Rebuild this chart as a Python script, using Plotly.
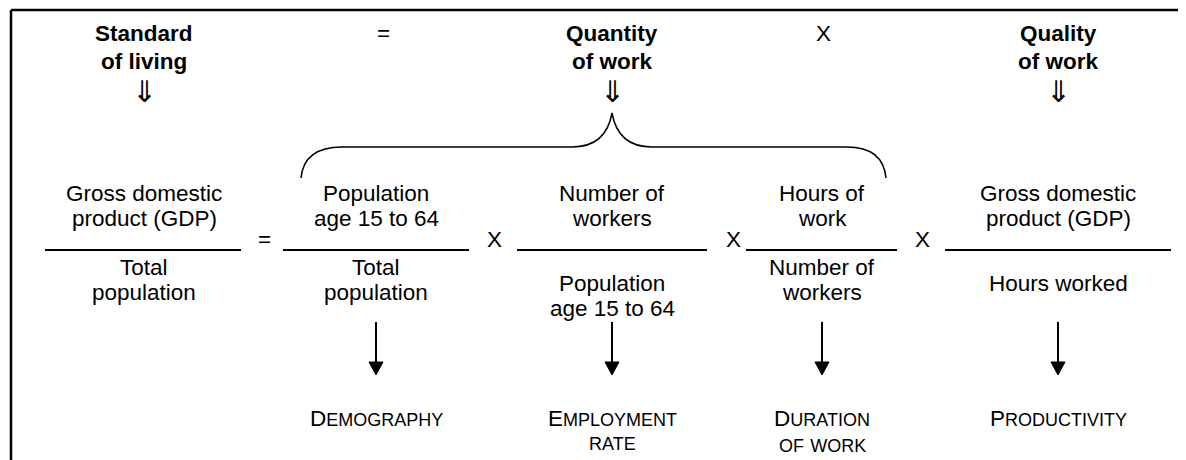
import plotly.graph_objects as go

# ---- content ----
headers = [["Standard", "of living"], ["Quantity", "of work"], ["Quality", "of work"]]
header_ops = ["=", "X"]
numerators = [["Gross domestic", "product (GDP)"], ["Population", "age 15 to 64"],
              ["Number of", "workers"], ["Hours of", "work"], ["Gross domestic", "product (GDP)"]]
denominators = [["Total", "population"], ["Total", "population"],
                ["Population", "age 15 to 64"], ["Number of", "workers"], ["Hours worked"]]
operators = ["=", "X", "X", "X"]
components = [["Demography"], ["Employment", "rate"], ["Duration", "of work"], ["Productivity"]]

# ---- layout (pixel positions in the 1186x460 frame) ----
W, H = 1186, 460
PAGE_MARGIN = 8  # default body margin of the html page
header_x = [144, 612, 1058]
header_op_x = [383, 823]
col_x = [144, 376, 612, 822, 1058]
line_l = [45, 283, 517, 746, 945]
line_r = [241, 469, 707, 897, 1171]
op_x = [264, 494, 733, 922]
den_y0 = [267, 267, 283, 267, 283]
comp_x = [376, 612, 822, 1058]

FONT = "Liberation Sans, Arial, sans-serif"
FS = 22.5
SMALL = 18
BLACK = "#000000"

annotations = []
shapes = []

def txt(x, y, s, size=FS, bold=False, family=FONT):
    annotations.append(dict(
        x=x, y=y, xref="x", yref="y", text=(f"<b>{s}</b>" if bold else s),
        showarrow=False, xanchor="center", yanchor="middle",
        font=dict(family=family, size=size, color=BLACK)))

def smallcaps(s):
    # true small caps: capitals at full size, lower-case letters as small capitals
    out, buf = [], ""
    for ch in s:
        if ch.islower():
            buf += ch.upper()
        else:
            if buf:
                out.append(f"<span style='font-size:{SMALL}px'>{buf}</span>")
                buf = ""
            out.append(ch)
    if buf:
        out.append(f"<span style='font-size:{SMALL}px'>{buf}</span>")
    return "".join(out)

# headers
for x, lines in zip(header_x, headers):
    for i, ln in enumerate(lines):
        txt(x, 33 + 28 * i, ln, bold=True)
    txt(x, 91, "⇓", size=30, family="DejaVu Sans ExtraLight, DejaVu Sans Light, DejaVu Sans, sans-serif")
for x, op in zip(header_op_x, header_ops):
    txt(x, 33, op)

# fractions
for k, x in enumerate(col_x):
    for i, ln in enumerate(numerators[k]):
        txt(x, 193 + 25 * i, ln)
    shapes.append(dict(type="line", xref="x", yref="y", x0=line_l[k], x1=line_r[k],
                       y0=250, y1=250, line=dict(color=BLACK, width=2)))
    for i, ln in enumerate(denominators[k]):
        txt(x, den_y0[k] + 25 * i, ln)
for x, op in zip(op_x, operators):
    txt(x, 239, op)

# brace
shapes.append(dict(type="path", xref="x", yref="y",
                   path="M 301,178 Q 304,147 342,147 L 572,147 Q 606,147 612,113 "
                        "Q 618,147 652,147 L 847,147 Q 883,147 886,178",
                   line=dict(color=BLACK, width=1.5)))

# arrows + components
for k, x in enumerate(comp_x):
    shapes.append(dict(type="line", xref="x", yref="y", x0=x, x1=x, y0=322, y1=364,
                       line=dict(color=BLACK, width=2)))
    shapes.append(dict(type="path", xref="x", yref="y",
                       path=f"M {x-7},362 L {x+7},362 L {x},375 Z",
                       fillcolor=BLACK, line=dict(color=BLACK, width=1)))
    for i, ln in enumerate(components[k]):
        txt(x, 418 + 26 * i, smallcaps(ln), size=FS)

# border (top + left)
shapes.append(dict(type="line", xref="x", yref="y", x0=11, x1=W, y0=10, y1=10,
                   line=dict(color=BLACK, width=2.5)))
shapes.append(dict(type="line", xref="x", yref="y", x0=11, x1=11, y0=10, y1=H,
                   line=dict(color=BLACK, width=2.5)))

fig = go.Figure()
fig.add_trace(go.Scatter(x=[PAGE_MARGIN, W], y=[PAGE_MARGIN, H], mode="markers",
                         marker=dict(opacity=0), hoverinfo="skip", showlegend=False))
fig.update_layout(
    width=W - PAGE_MARGIN, height=H - PAGE_MARGIN, margin=dict(l=0, r=0, t=0, b=0),
    paper_bgcolor="white", plot_bgcolor="white",
    xaxis=dict(range=[PAGE_MARGIN, W], visible=False, fixedrange=True),
    yaxis=dict(range=[H, PAGE_MARGIN], visible=False, fixedrange=True),
    annotations=annotations, shapes=shapes, showlegend=False,
)
fig.write_html("out.html", config={"displayModeBar": False})
